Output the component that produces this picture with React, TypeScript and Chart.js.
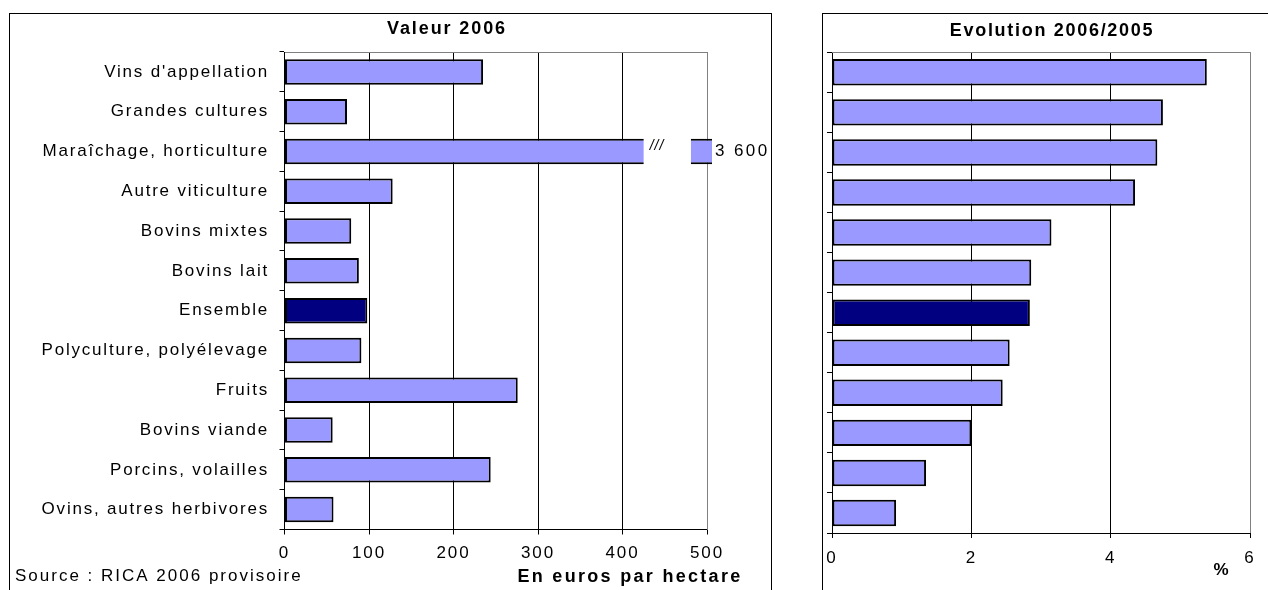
import React, { useEffect, useRef } from 'react';
import { Chart, registerables } from 'chart.js';

Chart.register(...registerables);

// ---- data ----
const categories = [
  "Vins d'appellation",
  'Grandes cultures',
  'Maraîchage, horticulture',
  'Autre viticulture',
  'Bovins mixtes',
  'Bovins lait',
  'Ensemble',
  'Polyculture, polyélevage',
  'Fruits',
  'Bovins viande',
  'Porcins, volailles',
  'Ovins, autres herbivores',
];
const valeur2006 = [235, 74, 3600, 128, 79, 88, 98, 91, 276, 57, 244, 58];
const evolution = [5.38, 4.75, 4.67, 4.35, 3.15, 2.86, 2.84, 2.55, 2.45, 2.0, 1.35, 0.92];
const valeurTicks = [0, 100, 200, 300, 400, 500];
const evolutionTicks = [0, 2, 4, 6];
const highlighted = 'Ensemble';

const titleLeft = 'Valeur 2006';
const titleRight = 'Evolution 2006/2005';
const sourceText = 'Source : RICA 2006 provisoire';
const unitLeft = 'En euros par hectare';
const unitRight = '%';

// ---- styles ----
const FONT = "'Liberation Sans', Arial, Helvetica, sans-serif";
const BAR = '#9999FF';
const DARK = '#000080';
const BREAK_FROM = 425;
const BREAK_TO = 481;
const CLIP_RIGHT = 5;

const fmt = (v: number) => String(v).replace(/\B(?=(\d{3})+(?!\d))/g, ' ');

const spacingPlugin = (sp: string) => ({
  id: 'spacing',
  beforeUpdate(chart: any) {
    chart.ctx.letterSpacing = sp;
  },
  beforeDraw(chart: any) {
    chart.ctx.letterSpacing = sp;
  },
});

const framePlugin = {
  id: 'frame',
  beforeDatasetsDraw(chart: any) {
    const { ctx, chartArea } = chart;
    ctx.save();
    ctx.strokeStyle = '#808080';
    ctx.lineWidth = 1;
    ctx.beginPath();
    const t = Math.round(chartArea.top) + 0.5;
    const r = Math.round(chartArea.right) + 0.5;
    ctx.moveTo(Math.round(chartArea.left), t);
    ctx.lineTo(r, t);
    ctx.lineTo(r, Math.round(chartArea.bottom));
    ctx.stroke();
    ctx.restore();
  },
};

type TextItem = {
  text: string;
  x: number;
  y: number;
  font: string;
  align: CanvasTextAlign;
  spacing: string;
};

const textPlugin = (items: TextItem[]) => ({
  id: 'texts',
  afterDraw(chart: any) {
    const ctx = chart.ctx;
    items.forEach((it) => {
      ctx.save();
      ctx.font = it.font;
      ctx.letterSpacing = it.spacing;
      ctx.fillStyle = '#000';
      ctx.textAlign = it.align;
      ctx.textBaseline = 'middle';
      ctx.fillText(it.text, it.x, it.y);
      ctx.restore();
    });
  },
});

const breakPlugin = {
  id: 'brk',
  afterDatasetsDraw(chart: any) {
    const xs = chart.scales.x;
    const meta = chart.getDatasetMeta(0);
    const ctx = chart.ctx;
    meta.data.forEach((bar: any, i: number) => {
      const v = valeur2006[i];
      if (v <= xs.max) return;
      const { y, height } = bar.getProps(['y', 'height'], true);
      const x1 = xs.getPixelForValue(BREAK_FROM);
      const x2 = xs.getPixelForValue(BREAK_TO);
      ctx.save();
      ctx.fillStyle = '#fff';
      ctx.fillRect(x1, y - height / 2 - 2, x2 - x1, height + 4);
      ctx.fillStyle = '#000';
      ctx.textBaseline = 'middle';
      ctx.textAlign = 'left';
      ctx.font = `italic 14px ${FONT}`;
      ctx.letterSpacing = '1px';
      ctx.fillText('///', x1 + 6, y - 5);
      ctx.font = `17px ${FONT}`;
      ctx.letterSpacing = '2.4px';
      ctx.fillText(fmt(v), xs.right + CLIP_RIGHT + 3, y);
      ctx.restore();
    });
  },
};

export default function App() {
  const leftRef = useRef<HTMLCanvasElement>(null);
  const rightRef = useRef<HTMLCanvasElement>(null);

  useEffect(() => {
    const catFont = { family: FONT, size: 17 };

    const left = new Chart(leftRef.current as HTMLCanvasElement, {
      type: 'bar',
      data: {
        labels: categories,
        datasets: [
          {
            data: valeur2006,
            backgroundColor: categories.map((c) => (c === highlighted ? DARK : BAR)),
            borderColor: '#000',
            borderWidth: 2,
            borderSkipped: false,
            barPercentage: 0.64,
            categoryPercentage: 1,
            clip: { left: 2, top: 2, right: CLIP_RIGHT, bottom: 2 } as any,
          },
        ],
      },
      options: {
        indexAxis: 'y',
        responsive: false,
        animation: false,
        events: [],
        layout: { padding: { left: 0, right: 64, top: 38, bottom: 0 } },
        plugins: { legend: { display: false }, tooltip: { enabled: false }, title: { display: false } },
        scales: {
          x: {
            type: 'linear',
            min: valeurTicks[0],
            max: valeurTicks[valeurTicks.length - 1],
            afterBuildTicks: (s: any) => {
              s.ticks = valeurTicks.map((v) => ({ value: v }));
            },
            ticks: {
              color: '#000',
              font: { family: FONT, size: 17, lineHeight: '37px' },
              padding: 0,
              maxRotation: 0,
            },
            grid: {
              color: (c: any) => (c.tick && c.tick.value === valeurTicks[valeurTicks.length - 1] ? '#808080' : '#000'),
              tickColor: '#000',
              tickLength: 5,
              lineWidth: 1,
            },
            border: { color: '#000', width: 1 },
            afterFit: (s: any) => {
              s.height = 60.5;
            },
          },
          y: {
            type: 'category',
            ticks: { color: '#000', font: catFont, padding: 10.5, autoSkip: false },
            grid: { drawOnChartArea: false, tickLength: 5, color: '#000', offset: true },
            border: { color: '#000', width: 1 },
            afterFit: (s: any) => {
              s.width = 274.5;
            },
          },
        },
      },
      plugins: [
        spacingPlugin('1.8px'),
        framePlugin,
        breakPlugin,
        textPlugin([
          { text: titleLeft, x: 437, y: 15, font: `bold 18px ${FONT}`, align: 'center', spacing: '1.9px' },
          { text: sourceText, x: 5, y: 562, font: `17px ${FONT}`, align: 'left', spacing: '2px' },
          { text: unitLeft, x: 620, y: 563, font: `bold 18px ${FONT}`, align: 'center', spacing: '2.3px' },
        ]),
      ],
    } as any);

    const right = new Chart(rightRef.current as HTMLCanvasElement, {
      type: 'bar',
      data: {
        labels: categories,
        datasets: [
          {
            data: evolution,
            backgroundColor: categories.map((c) => (c === highlighted ? DARK : BAR)),
            borderColor: '#000',
            borderWidth: 2,
            borderSkipped: false,
            barPercentage: 0.66,
            categoryPercentage: 1,
          },
        ],
      },
      options: {
        indexAxis: 'y',
        responsive: false,
        animation: false,
        events: [],
        layout: { padding: { left: 0, right: 18, top: 38.3, bottom: 0 } },
        plugins: { legend: { display: false }, tooltip: { enabled: false }, title: { display: false } },
        scales: {
          x: {
            type: 'linear',
            min: evolutionTicks[0],
            max: evolutionTicks[evolutionTicks.length - 1],
            afterBuildTicks: (s: any) => {
              s.ticks = evolutionTicks.map((v) => ({ value: v }));
            },
            ticks: {
              color: '#000',
              font: { family: FONT, size: 17, lineHeight: '40px' },
              padding: 0,
              maxRotation: 0,
            },
            grid: {
              color: (c: any) =>
                c.tick && c.tick.value === evolutionTicks[evolutionTicks.length - 1] ? '#808080' : '#000',
              tickColor: '#000',
              tickLength: 5,
              lineWidth: 1,
            },
            border: { color: '#000', width: 1 },
            afterFit: (s: any) => {
              s.height = 57;
            },
          },
          y: {
            type: 'category',
            ticks: { display: false },
            grid: { drawOnChartArea: false, tickLength: 5, color: '#000', offset: true },
            border: { color: '#000', width: 1 },
            afterFit: (s: any) => {
              s.width = 9;
            },
          },
        },
      },
      plugins: [
        spacingPlugin('1.8px'),
        framePlugin,
        textPlugin([
          { text: titleRight, x: 229, y: 17, font: `bold 18px ${FONT}`, align: 'center', spacing: '1.7px' },
          { text: unitRight, x: 398, y: 556, font: `bold 17px ${FONT}`, align: 'center', spacing: '0px' },
        ]),
      ],
    } as any);

    return () => {
      left.destroy();
      right.destroy();
    };
  }, []);

  return (
    <div
      style={{
        position: 'fixed',
        left: 0,
        top: 0,
        width: 1268,
        height: 590,
        overflow: 'hidden',
        background: '#fff',
      }}
    >
      <div
        style={{
          position: 'absolute',
          left: 9,
          top: 13,
          width: 763,
          height: 700,
          border: '1px solid #000',
          boxSizing: 'border-box',
        }}
      />
      <div
        style={{
          position: 'absolute',
          left: 822,
          top: 13,
          width: 600,
          height: 700,
          border: '1px solid #000',
          boxSizing: 'border-box',
        }}
      />
      <canvas
        ref={leftRef}
        width={761}
        height={576}
        style={{ position: 'absolute', left: 10, top: 14 }}
      />
      <canvas
        ref={rightRef}
        width={445}
        height={576}
        style={{ position: 'absolute', left: 823, top: 14 }}
      />
    </div>
  );
}
